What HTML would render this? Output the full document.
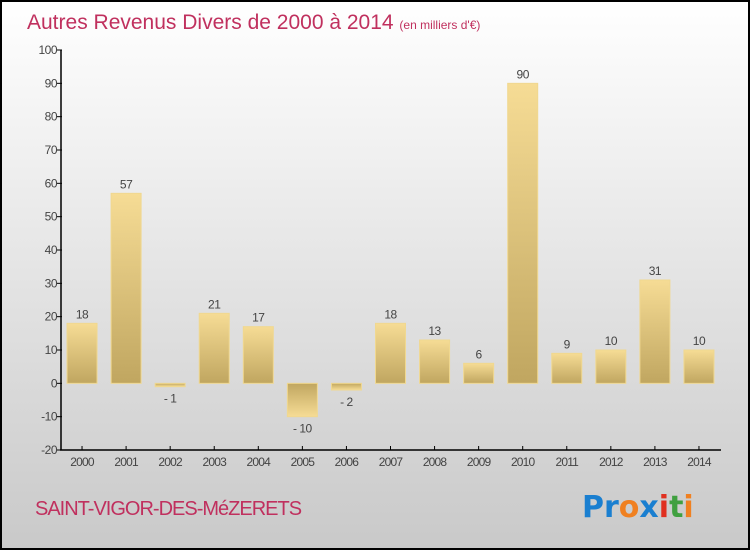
<!DOCTYPE html>
<html><head><meta charset="utf-8"><style>
body{margin:0;width:750px;height:550px;overflow:hidden;font-family:"Liberation Sans",sans-serif}
svg{display:block}
</style></head><body>
<svg width="750" height="550" xmlns="http://www.w3.org/2000/svg">
<defs>
<linearGradient id="bg" x1="0" y1="0" x2="0" y2="1"><stop offset="0" stop-color="#ffffff"/><stop offset="1" stop-color="#c9c9c9"/></linearGradient>
<linearGradient id="gp" x1="0" y1="0" x2="0" y2="1"><stop offset="0" stop-color="#f6dc95"/><stop offset="1" stop-color="#c0a660"/></linearGradient>
<linearGradient id="gn" x1="0" y1="1" x2="0" y2="0"><stop offset="0" stop-color="#f6dc95"/><stop offset="1" stop-color="#c0a660"/></linearGradient>
</defs>
<rect x="1" y="1" width="748" height="548" fill="url(#bg)" stroke="#000" stroke-width="2"/>
<text x="27" y="29" font-size="21" fill="#c0305e">Autres Revenus Divers de 2000 à 2014 <tspan font-size="12">(en milliers d'€)</tspan></text>
<g id="yaxis"></g>
<g id="bars"></g>
<g id="xaxis"></g>
<text x="35" y="515" font-size="20" fill="#c0305e" letter-spacing="-1">SAINT-VIGOR-DES-MéZERETS</text>
<text x="582" y="517" font-size="30" font-weight="bold" font-family="DejaVu Sans, sans-serif"><tspan fill="#1a7fd0">Pr</tspan><tspan fill="#f08020">o</tspan><tspan fill="#1a7fd0">x</tspan><tspan fill="#e03020">i</tspan><tspan fill="#40a040">t</tspan><tspan fill="#f08020">i</tspan></text>
</svg>
<script>
const categories=["2000","2001","2002","2003","2004","2005","2006","2007","2008","2009","2010","2011","2012","2013","2014"];
const values=[18,57,-1,21,17,-10,-2,18,13,6,90,9,10,31,10];
const yTicks=[-20,-10,0,10,20,30,40,50,60,70,80,90,100];
const NS="http://www.w3.org/2000/svg";
const x0=60,x1=721,yTop=50,yBot=450,vMin=-20,vMax=100;
const step=(x1-x0)/categories.length;
function y(v){return yBot-(v-vMin)/(vMax-vMin)*(yBot-yTop);}
function xc(i){return x0+step*(i+0.5);}
function mk(tag,attrs,parent){const e=document.createElementNS(NS,tag);for(const k in attrs)e.setAttribute(k,attrs[k]);parent.appendChild(e);return e;}
const ya=document.getElementById('yaxis'),xa=document.getElementById('xaxis'),bg=document.getElementById('bars');
yTicks.forEach(t=>{
  const l=mk('line',{x1:x0-3,x2:x0+2,y1:y(t),y2:y(t),stroke:'#000'},ya);
  
  
  const tx=mk('text',{x:x0-3,y:y(t)+4,'font-size':12,'text-anchor':'end',fill:'#444','letter-spacing':'-0.5'},ya);
  tx.textContent=t;
  
  
});
const yl=mk('line',{x1:x0+1,x2:x0+1,y1:yTop,y2:yBot,stroke:'#000','stroke-width':1.5},ya);


const xl=mk('line',{x1:x0,x2:x1,y1:yBot,y2:yBot,stroke:'#000','stroke-width':1.5},xa);


categories.forEach((c,i)=>{
  const v=values[i],cx=xc(i),bw=30;
  const yt=Math.min(y(v),y(0)),h=Math.abs(y(v)-y(0));
  const r=mk('rect',{x:cx-bw/2,y:yt,width:bw,height:Math.max(h,1.5),fill:v>=0?'url(#gp)':'url(#gn)',stroke:'#f0d890','stroke-width':1},bg);
  
  
  const lb=mk('text',{x:cx,y:v>=0?y(v)-5:y(v)+16,'font-size':12,'text-anchor':'middle',fill:'#444','letter-spacing':'-0.5'},bg);
  lb.textContent=v<0?'- '+Math.abs(v):v;
  
  
  const tk=mk('line',{x1:cx,x2:cx,y1:yBot-4,y2:yBot,stroke:'#000'},xa);
  
  
  const tl=mk('text',{x:cx,y:yBot+16,'font-size':12,'text-anchor':'middle',fill:'#444','letter-spacing':'-0.8'},xa);
  tl.textContent=c;
  
  
});
</script>
</body></html>
